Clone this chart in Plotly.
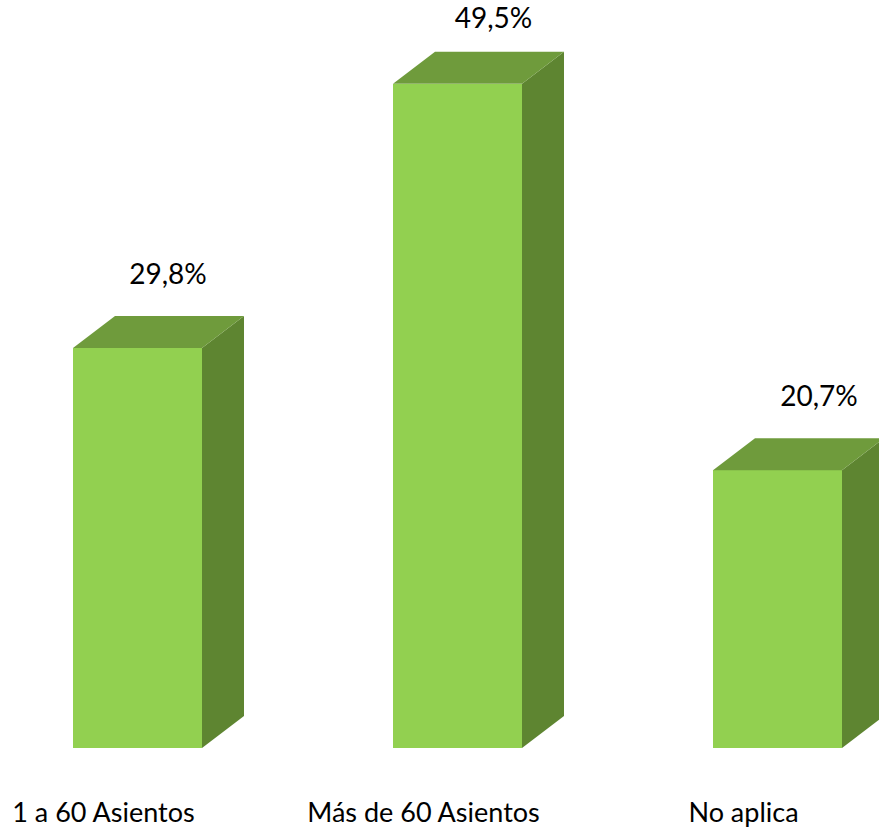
import plotly.graph_objects as go

# ---- data ----
categories = ["1 a 60 Asientos", "Más de 60 Asientos", "No aplica"]
values = [29.8, 49.5, 20.7]
value_labels = ["29,8%", "49,5%", "20,7%"]

# ---- style / geometry (pixel-based layout) ----
W, H = 879, 827
MB = 79                      # bottom margin
PX_PER_CAT = 320.0
PX_PER_VAL = 13.42
X0_PX = 137.5                # pixel of first category centre
BAR_W = 129 / PX_PER_CAT
DX = 42 / PX_PER_CAT         # depth offset (x)
DY = 32 / PX_PER_VAL         # depth offset (y)

FRONT = "#92D050"
TOP = "#6F9B3C"
SIDE = "#5E8531"
FONT = "Lato"

xr = [-X0_PX / PX_PER_CAT, (W - X0_PX) / PX_PER_CAT]
yr = [0, (H - MB) / PX_PER_VAL]

xs = list(range(len(categories)))
fig = go.Figure()

for i, v in zip(xs, values):
    l, r = i - BAR_W / 2, i + BAR_W / 2
    # side face
    fig.add_trace(go.Scatter(
        x=[r, r + DX, r + DX, r, r], y=[0, DY, v + DY, v, 0],
        fill="toself", fillcolor=SIDE, mode="lines",
        line=dict(width=0, color=SIDE), hoverinfo="skip", showlegend=False))
    # top face
    fig.add_trace(go.Scatter(
        x=[l, r, r + DX, l + DX, l], y=[v, v, v + DY, v + DY, v],
        fill="toself", fillcolor=TOP, mode="lines",
        line=dict(width=0, color=TOP), hoverinfo="skip", showlegend=False))

# front faces
fig.add_trace(go.Bar(
    x=xs, y=values, width=BAR_W, marker=dict(color=FRONT, line=dict(width=0)),
    hoverinfo="skip", showlegend=False))

# value labels (kept inside the plot area at the top)
lab_x = [i + (30.5 + 5.5 * i) / PX_PER_CAT for i in xs]
lab_y = [min(v + 71 / PX_PER_VAL, yr[1] - 21 / PX_PER_VAL) for v in values]
fig.add_trace(go.Scatter(
    x=lab_x, y=lab_y, mode="text", text=value_labels,
    textfont=dict(family=FONT, size=28, color="#000000"),
    textposition="middle center", cliponaxis=False,
    hoverinfo="skip", showlegend=False))

fig.update_layout(
    width=W, height=H,
    margin=dict(l=0, r=0, t=0, b=MB, autoexpand=False),
    paper_bgcolor="white", plot_bgcolor="white",
    bargap=0,
    xaxis=dict(range=xr, showgrid=False, zeroline=False, showline=False,
               automargin=False,
               tickmode="array", tickvals=[i - 34 / PX_PER_CAT for i in xs],
               ticktext=categories, ticks="", ticklabelstandoff=46,
               tickfont=dict(family=FONT, size=27, color="#000000")),
    yaxis=dict(range=yr, showgrid=False, zeroline=False, showline=False,
               automargin=False, showticklabels=False, ticks=""),
)

fig.write_html("out.html",
               config={"displayModeBar": False},
               post_script="document.body.style.margin='0';document.body.style.overflow='hidden';")
